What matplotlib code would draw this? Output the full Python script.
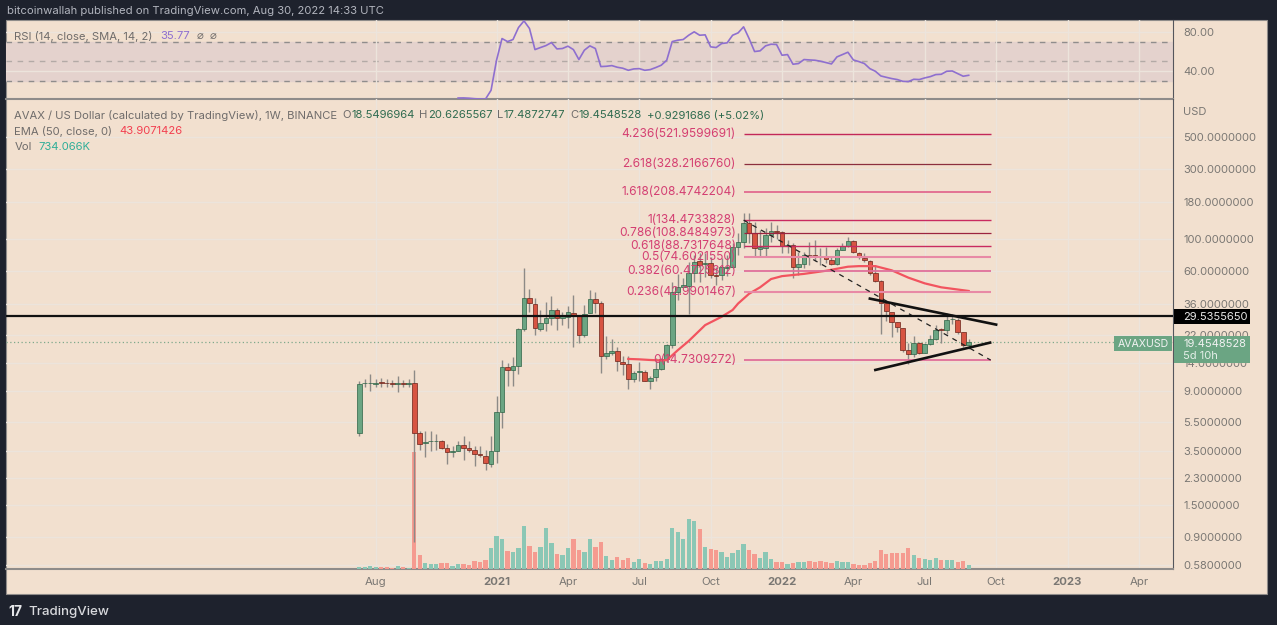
import matplotlib
matplotlib.use('Agg')
import matplotlib.pyplot as plt
from matplotlib.patches import Rectangle
import numpy as np

plt.rcParams['font.family'] = ['Inter', 'DejaVu Sans']

W, H = 1277, 625

# weekly candles, index 0 = first bar
opens = [4.65, 10.2, 10.2, 10.1, 10.4, 10.3, 10.3, 10.15, 10.25, 10.15,
         10.2, 4.65, 4.0, 4.07, 4.1, 4.12, 3.65, 3.47, 3.52, 3.84,
         3.66, 3.57, 3.33, 3.26, 2.87, 3.48, 6.47, 13.1, 12.5, 13.5,
         24.0, 39.2, 36, 24.2, 26.5, 28.6, 32.6, 28.6, 29, 31.2,
         29.4, 21.9, 31.2, 38.4, 36.2, 15.6, 16.5, 17.1, 14.4, 13.8,
         10.9, 12.2, 12.2, 10.6, 11.2, 12.8, 14.9, 18.7, 43.1, 47,
         47.8, 58.6, 70.2, 66.9, 67.9, 56.6, 56.2, 63.2, 63.8, 87.5,
         94.7, 127.8, 109.5, 85.5, 87, 106.5, 113.5, 112, 89.3, 91.3,
         64.4, 67.5, 78, 77.3, 76.3, 74.5, 72, 67.5, 83.8, 89.3,
         96.7, 80.3, 74.3, 70.9, 58, 51.5, 36.1, 31.6, 26.8, 24.6,
         17.4, 16.1, 19.4, 16.6, 18.9, 20.4, 23.9, 23.6, 28.1, 27.9,
         22.9, 18.55]
closes = [10.15, 10.2, 10.2, 10.3, 10.2, 10.2, 10.05, 10.2, 10.15, 10.2,
          4.65, 3.93, 4.03, 4.12, 4.12, 3.7, 3.45, 3.52, 3.82, 3.68,
          3.57, 3.35, 3.28, 2.88, 3.48, 6.47, 13.1, 12.5, 13.5, 24.0,
          39.0, 36.2, 24.3, 26.4, 28.6, 32.6, 28.6, 29.4, 31.5, 29.4,
          21.9, 30.7, 38.6, 36.5, 15.6, 16.5, 17.1, 14.6, 13.8, 10.9,
          12.1, 12.3, 10.6, 11.1, 12.8, 14.9, 18.7, 43.0, 47, 48,
          58.6, 69.4, 66.5, 67.9, 56.6, 55.9, 63.8, 64.4, 87.5, 94.7,
          127.8, 110, 87, 87.5, 106, 114, 112, 89.3, 90.5, 64.4,
          67.5, 78, 77.3, 76.5, 74.5, 72.4, 67.5, 83.8, 89.3, 97.2,
          80.7, 74.7, 71.2, 58.3, 51.5, 36.1, 31.9, 26.8, 24.7, 17.4,
          16.1, 19.4, 16.6, 18.9, 20.4, 23.8, 23.6, 27.9, 28.2, 22.9,
          18.55, 19.45]
highs = [10.5, 10.9, 11.8, 10.9, 11.1, 11.0, 10.7, 11.5, 10.8, 10.9,
         12.6, 4.77, 4.77, 4.82, 4.6, 4.18, 3.93, 3.77, 4.07, 4.45,
         4.07, 3.77, 3.77, 3.57, 4.45, 8.4, 14.8, 14.0, 15.5, 24.3,
         63, 45, 39.3, 32.6, 36.8, 40.3, 33.5, 31.7, 34.4, 40.9,
         30.2, 35.3, 44.7, 42.9, 37.2, 21.7, 20.6, 18.1, 15.6, 15.6,
         12.3, 14.2, 12.5, 11.5, 15.2, 15.2, 19.1, 50.8, 57.4, 53.6,
         69.7, 77.5, 79.5, 79.5, 75.5, 64.4, 73.5, 77.5, 93.1, 109,
         151, 151, 131, 115, 118, 131, 124.5, 113.5, 98.2, 93.1,
         81.6, 81.6, 95.6, 98.2, 86, 88.4, 75.5, 86, 94, 102.5,
         98.2, 81.6, 79.5, 71.6, 66, 52.2, 37, 30, 27, 24.3,
         19.2, 21.5, 19.7, 19.2, 21.9, 25.6, 24.3, 30.8, 30.5, 28.5,
         23, 20.63]
lows = [4.41, 9.7, 9.0, 9.7, 9.6, 9.7, 9.6, 8.9, 9.7, 9.7,
        0.83, 3.57, 3.18, 3.52, 3.57, 3.63, 2.85, 3.18, 3.48, 3.02,
        3.42, 2.75, 3.18, 2.6, 2.72, 2.89, 5.0, 9.8, 9.8, 11.9,
        23.3, 31.7, 22, 23.2, 23.5, 25.7, 23.8, 25.7, 24.5, 18.1,
        19.3, 21.2, 30.9, 30.9, 12, 15, 16, 12.3, 11.7, 9.3,
        10.4, 10.6, 10.5, 9.3, 10.5, 12.5, 14.4, 17.7, 38, 46.5,
        30.5, 50.8, 50.8, 55, 53.6, 48.3, 52.2, 55.6, 62.7, 77.5,
        86, 93, 74.7, 74.7, 75.5, 95.6, 99.8, 79.5, 79.5, 53.6,
        56.5, 62.7, 66.1, 70.9, 66, 67.9, 66, 66, 83.8, 88.4,
        79.5, 72.4, 69.7, 56.5, 50.8, 22.4, 27.4, 21.3, 23, 16.8,
        13.9, 15.4, 16.2, 16.4, 18.7, 20.2, 19.4, 22.4, 26, 22.4,
        18.2, 17.49]
# volume in thousands
volumes = [305, 305, 488, 366, 305, 305, 244, 488, 305, 244,
           21470, 2560, 1160, 915, 976, 1037, 1160, 610, 915, 976,
           671, 1525, 1342, 1647, 3782, 5978, 5490, 3294, 3111, 3782,
           7930, 4209, 3172, 4026, 7503, 4819, 2745, 2560, 3782, 5490,
           3416, 3172, 5429, 3965, 4941, 2379, 1647, 2135, 1708, 2013,
           1281, 1830, 1160, 915, 1525, 1525, 1830, 7503, 6710, 5490,
           9150, 8845, 7320, 4087, 3721, 3416, 3050, 2135, 2989, 3477,
           4575, 3538, 2684, 2074, 3050, 1891, 1281, 1281, 854, 1098,
           1220, 1220, 1525, 1220, 1464, 1220, 1160, 1464, 1220, 1281,
           915, 793, 671, 1037, 1464, 3538, 2684, 2928, 2928, 2928,
           3904, 2501, 2013, 1769, 1647, 2074, 1647, 1708, 1708, 1342,
           1464, 734]

rsi_start = 18
rsi = [12.5, 12.6, 12.3, 11.8, 11.5, 11.5, 20.4, 51.2, 73.4, 70.3,
       72.4, 84.7, 91.5, 83.7, 62.1, 64.2, 66.2, 69.3, 62.8, 63.2,
       65.6, 62.1, 51.9, 61.5, 65.9, 63.2, 44.7, 45, 45.7, 44,
       43, 40.9, 42.3, 42.6, 40.9, 41.6, 43.7, 46.1, 51.2, 70.3,
       71.7, 72.4, 76.8, 80.3, 76.8, 77.2, 64.9, 64.2, 68.3, 69,
       76.8, 79.2, 85.4, 73.4, 60.1, 60.8, 65.9, 67.6, 67.3, 56.3,
       57, 47.1, 47.8, 51.9, 51.5, 51.2, 50.2, 48.8, 47.4, 54.6,
       57, 59.4, 51.5, 49.8, 47.8, 42.6, 39.9, 35.1, 33.7, 32.4,
       31.4, 29.6, 29.3, 31.7, 31.4, 33.1, 34.4, 36.5, 36.8, 39.9,
       40.2, 37.5, 34.8, 35.77]

ema_weeks = [49, 51, 53, 55, 56, 58, 60, 63, 66, 68, 69, 71, 73, 75, 77,
             81, 85, 89, 91, 94, 97, 100, 103, 106, 111]
ema = [15.0, 14.9, 14.75, 14.65, 14.7, 17.2, 19.9, 25.6, 29.2, 32.5, 36,
       42, 46.5, 53, 55.5, 57.5, 60.4, 64.4, 65, 65, 60.8, 54.2, 49.5, 46.5, 43.9]

fib_levels = [521.9599691, 328.2166760, 208.4742204, 134.4733828, 108.8484973,
              88.7317648, 74.6021550, 60.4725812, 42.9901467, 14.7309272]
fib_labels = ['4.236(521.9599691)', '2.618(328.2166760)', '1.618(208.4742204)',
              '1(134.4733828)', '0.786(108.8484973)', '0.618(88.7317648)',
              '0.5(74.6021550)', '0.382(60.4725812)', '0.236(42.9901467)',
              '0(14.7309272)']
fib_colors = ['#c2285a', '#8c2f3f', '#e0608a', '#c92a60', '#9c2440',
              '#c92a60', '#e88aa6', '#e0709a', '#e88aa6', '#e0709a']
fib_widths = [1.0, 0.9, 1.2, 1.0, 0.9, 1.0, 1.5, 1.3, 1.5, 1.3]

price_ticks = [500, 300, 180, 100, 60, 36, 22, 14, 9, 5.5, 3.5, 2.3, 1.5, 0.9, 0.58]
time_ticks = [3, 25, 38, 51, 64, 77, 90, 103, 116, 129, 142]
time_labels = ['Aug', '2021', 'Apr', 'Jul', 'Oct', '2022', 'Apr', 'Jul', 'Oct', '2023', 'Apr']
rsi_ticks = [80, 40]

resistance = 29.5355650
last_price = 19.4548528

BG = '#f2e0cf'
DARK = '#1e222d'
GRID = '#ece4dc'
TXT = '#6f6c6b'
AXIS_TXT = '#7a7773'
UP, DOWN = '#6ba583', '#d75442'
UP_EDGE, DOWN_EDGE = '#2c6345', '#6b2218'


def rect(x0, y0, x1, y1):
    return [x0 / W, 1 - y1 / H, (x1 - x0) / W, (y1 - y0) / H]


def chain(x, y, parts, size=8.1):
    # texts in a row, each with its own colour and the gap after it
    rend = fig.canvas.get_renderer()
    for s, col, gap in parts:
        t = fig.text(x / W, 1 - y / H, s, color=col, fontsize=size, va='center')
        x = t.get_window_extent(rend).x1 + gap


fig = plt.figure(figsize=(W / 100, H / 100), dpi=100, facecolor=DARK)
fig.add_artist(Rectangle((6 / W, 1 - 594 / H), 1261 / W, 574 / H, transform=fig.transFigure,
                         facecolor=BG, edgecolor='#8f8c8a', lw=0.8, zorder=-5))

xlim = (-64.35, 148.27)
weeks = np.arange(len(closes))

# rsi pane
ax_rsi = fig.add_axes(rect(6, 20, 1173.3, 98.7), facecolor='none', zorder=1)
ax_rsi.axhspan(30, 70, color='#e4d2cd', zorder=0)
ax_rsi.set_xlim(xlim)
ax_rsi.set_ylim(11.8, 92.4)
for lvl in [70, 50, 30]:
    ax_rsi.axhline(lvl, color='#8f8d8c' if lvl != 50 else '#b3aaa6', lw=1, ls=(0, (4, 4)), zorder=1)
ax_rsi.plot(weeks[rsi_start:], rsi, color='#8e6fcf', lw=1.2, zorder=3)
ax_rsi.set_xticks(time_ticks)
ax_rsi.set_xticklabels([])
ax_rsi.yaxis.tick_right()
ax_rsi.set_yticks(rsi_ticks)
ax_rsi.set_yticklabels(['%.2f' % v for v in rsi_ticks], color=AXIS_TXT, fontsize=8)
ax_rsi.tick_params(length=0, pad=7)
ax_rsi.grid(True, color=GRID, lw=1, zorder=0.5)
for s in ['top', 'left']:
    ax_rsi.spines[s].set_visible(False)
ax_rsi.spines['bottom'].set_color('#8f8c8a')
ax_rsi.spines['bottom'].set_linewidth(1.5)
ax_rsi.spines['right'].set_color('#55565c')

# price pane: grid and labels at the back, then volume, then candles
ax = fig.add_axes(rect(6, 98.7, 1173.3, 569), facecolor='none', zorder=1)
ax.set_yscale('log')
ax.set_xlim(xlim)
ax.set_ylim(0.5425, 916)
ax.yaxis.tick_right()
ax.set_yticks(price_ticks)
ax.set_yticklabels(['%.7f' % v for v in price_ticks], color=AXIS_TXT, fontsize=8)
ax.minorticks_off()
ax.set_xticks(time_ticks)
ax.set_xticklabels(time_labels, color=AXIS_TXT, fontsize=8.2)
for lab, name in zip(ax.get_xticklabels(), time_labels):
    if name.isdigit():
        lab.set_fontweight('bold')
ax.tick_params(axis='y', length=0, pad=7)
ax.tick_params(axis='x', length=0, pad=6)
ax.grid(True, color=GRID, lw=1)
ax.set_axisbelow(True)
for s in ['top', 'left']:
    ax.spines[s].set_visible(False)
ax.spines['bottom'].set_color('#8f8c8a')
ax.spines['bottom'].set_linewidth(1.5)
ax.spines['right'].set_color('#55565c')

is_up = np.array(closes) >= np.array(opens)

ax_vol = fig.add_axes(rect(6, 98.7, 1173.3, 569), facecolor='none', zorder=2)
ax_vol.set_xlim(xlim)
ax_vol.set_ylim(0, 86000)
ax_vol.axis('off')
ax_vol.bar(weeks, volumes, width=0.78, color=['#8bc7b5' if u else '#f59b90' for u in is_up])

ax_c = fig.add_axes(rect(6, 98.7, 1173.3, 569), facecolor='none', zorder=3, sharex=ax, sharey=ax)
ax_c.axis('off')
ax_c.vlines(weeks, lows, highs, color='#8d8a87', lw=1, zorder=2)
ax_c.bar(weeks, np.abs(np.array(closes) - np.array(opens)), bottom=np.minimum(opens, closes),
         width=0.85, color=[UP if u else DOWN for u in is_up],
         edgecolor=[UP_EDGE if u else DOWN_EDGE for u in is_up], lw=0.5, zorder=3)

ax_c.axhline(last_price, color='#7fa98c', lw=0.9, ls=(0, (1, 2)), zorder=1)
ax_c.plot(ema_weeks, ema, color='#f2545f', lw=1.6, zorder=4)

for lvl, lab, col, lw in zip(fib_levels, fib_labels, fib_colors, fib_widths):
    ax_c.hlines(lvl, 70, 115, color=col, lw=lw, zorder=4)
    ax_c.text(68.6, lvl, lab, color='#d43f72', fontsize=8.6, ha='right', va='center', zorder=6)

ax_c.plot([70, 115], [fib_levels[3], fib_levels[-1]], color='#222222', lw=0.9, ls=(0, (4, 4)), zorder=5)
ax_c.axhline(resistance, color='#111111', lw=1.6, zorder=5)
ax_c.plot([93, 116], [38.9, 25.8], color='#111111', lw=1.9, zorder=5)
ax_c.plot([94, 114.9], [12.6, 19.4], color='#111111', lw=1.9, zorder=5)

# legends
fig.text(7 / W, 1 - 11 / H, 'bitcoinwallah published on TradingView.com, Aug 30, 2022 14:33 UTC',
         color='#b2b5be', fontsize=8.1, va='center')
chain(14.5, 36, [('RSI (14, close, SMA, 14, 2)', TXT, 7), ('35.77', '#8e6fcf', 7),
                 ('\u2300', TXT, 6), ('\u2300', TXT, 0)])
val = '#2f6b4f'
chain(14.5, 115.5, [('AVAX / US Dollar (calculated by TradingView), 1W, BINANCE', TXT, 5),
                    ('O', TXT, 0), ('18.5496964', val, 5), ('H', TXT, 0), ('20.6265567', val, 5),
                    ('L', TXT, 0), ('17.4872747', val, 5), ('C', TXT, 0), ('19.4548528', val, 5),
                    ('+0.9291686 (+5.02%)', val, 0)])
chain(14.5, 131.5, [('EMA (50, close, 0)', TXT, 7), ('43.9071426', '#f23f50', 0)])
chain(14.5, 147.5, [('Vol', TXT, 7), ('734.066K', '#2fae98', 0)])
fig.text(1183 / W, 1 - 112 / H, 'USD', color=AXIS_TXT, fontsize=8, va='center')

# price tags
def tag(x0, y0, x1, y1, col):
    fig.add_artist(Rectangle((x0 / W, 1 - y1 / H), (x1 - x0) / W, (y1 - y0) / H,
                             transform=fig.transFigure, facecolor=col, edgecolor='none', zorder=10))

tag(1173.5, 309, 1250, 323.7, '#000000')
fig.text(1183 / W, 1 - 317 / H, '%.7f' % resistance, color='#e8e8e8', fontsize=8, va='center', zorder=11)
tag(1173.5, 335.7, 1250, 362.7, UP)
fig.text(1183 / W, 1 - 344 / H, '%.7f' % last_price, color='#f2f2f2', fontsize=8, va='center', zorder=11)
fig.text(1183 / W, 1 - 356 / H, '5d 10h', color='#e4efe8', fontsize=8, va='center', zorder=11)
tag(1113.5, 335.7, 1172, 350.5, UP)
fig.text(1118 / W, 1 - 344 / H, 'AVAXUSD', color='#f2f2f2', fontsize=7.6, va='center', zorder=11)

# footer
fig.text(8 / W, 1 - 612 / H, '17', color='#e6e7ea', fontsize=10, fontweight='bold', va='center')
fig.text(28 / W, 1 - 612.5 / H, 'TradingView', color='#d8d9dd', fontsize=9.6, fontweight='medium', va='center')

fig.savefig('out.png', dpi=100, facecolor=DARK)
